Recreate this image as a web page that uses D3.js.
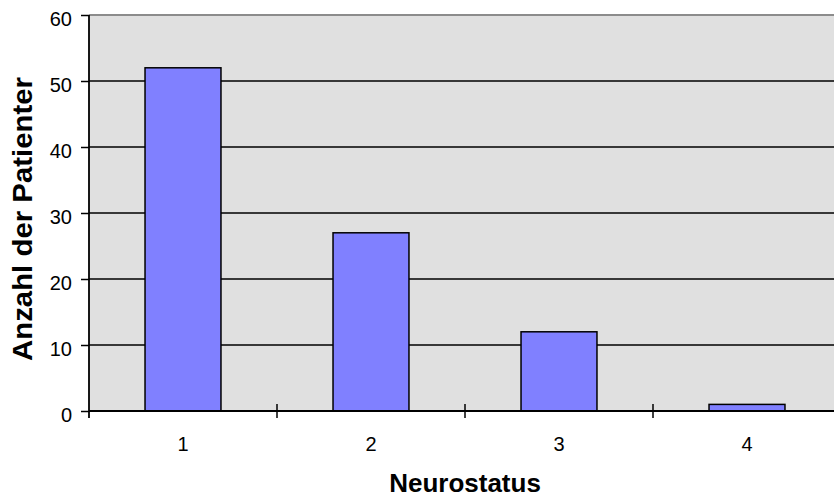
<!DOCTYPE html>
<html><head><meta charset="utf-8">
<script src="https://cdn.jsdelivr.net/npm/d3@7"></script>
<style>body{margin:0;background:#fff}svg{display:block}</style>
</head><body>
<svg id="c" width="834" height="498"></svg>
<script>
const categories = ["1","2","3","4"];
const values = [52, 27, 12, 1];
const yTicks = [0,10,20,30,40,50,60];

const FONT = "Liberation Sans, Arial, sans-serif";
const svg = d3.select("#c");
const m = {l:89, t:15, r:841, b:411};
const x = d3.scaleBand().domain(categories).range([m.l, m.r]).paddingInner(0.596).paddingOuter(0.298);
const xb = d3.scaleBand().domain(categories).range([m.l, m.r]);
const y = d3.scaleLinear().domain([0,60]).range([m.b, m.t]);

svg.append("rect").attr("x",m.l).attr("y",m.t).attr("width",m.r-m.l).attr("height",m.b-m.t).attr("fill","#e0e0e0");
svg.append("line").attr("x1",m.l).attr("x2",m.r).attr("y1",m.t).attr("y2",m.t).attr("stroke","#8c8c8c").attr("stroke-width",2);
svg.selectAll(".grid").data(yTicks.filter(d=>d>0&&d<60)).join("line")
  .attr("x1",m.l).attr("x2",m.r).attr("y1",d=>y(d)).attr("y2",d=>y(d)).attr("stroke","#000").attr("stroke-width",1.3);

svg.selectAll(".bar").data(values).join("rect")
  .attr("x",(d,i)=>x(categories[i])).attr("width",x.bandwidth())
  .attr("y",d=>y(d)).attr("height",d=>y(0)-y(d))
  .attr("fill","#8080ff").attr("stroke","#000").attr("stroke-width",1.5);

// y axis
const ya = svg.append("g").attr("transform",`translate(${m.l},0)`)
  .call(d3.axisLeft(y).tickValues(yTicks).tickSize(8).tickPadding(9));
ya.select(".domain").attr("stroke","#000").attr("stroke-width",1.8).attr("d",`M0,${m.t}V${m.b+7}`);
ya.selectAll(".tick line").attr("stroke","#000").attr("stroke-width",1.5);
ya.selectAll("text").attr("font-family",FONT).attr("font-size",20).attr("fill","#000").attr("dy","0.53em");

// x axis
const xa = svg.append("g").attr("transform",`translate(0,${m.b})`)
  .call(d3.axisBottom(x).tickSize(0).tickPadding(26));
xa.select(".domain").attr("stroke","#000").attr("stroke-width",1.8).attr("d",`M${m.l},0H${m.r}`);
xa.selectAll("text").attr("font-family",FONT).attr("font-size",20).attr("fill","#000");
const bounds = categories.map(c=>xb(c)).concat([m.r]);
svg.selectAll(".xt").data(bounds.slice(1)).join("line")
  .attr("x1",d=>d).attr("x2",d=>d).attr("y1",m.b-7).attr("y2",m.b+7).attr("stroke","#000").attr("stroke-width",1.5);

svg.append("text").attr("x",465).attr("y",492).attr("text-anchor","middle")
  .attr("font-family",FONT).attr("font-weight","bold").attr("font-size",26).text("Neurostatus");
svg.append("text").attr("transform",`translate(32,219) rotate(-90)`).attr("text-anchor","middle")
  .attr("font-family",FONT).attr("font-weight","bold").attr("font-size",27).attr("textLength",284).attr("lengthAdjust","spacingAndGlyphs").text("Anzahl der Patienter");
</script>
</body></html>
